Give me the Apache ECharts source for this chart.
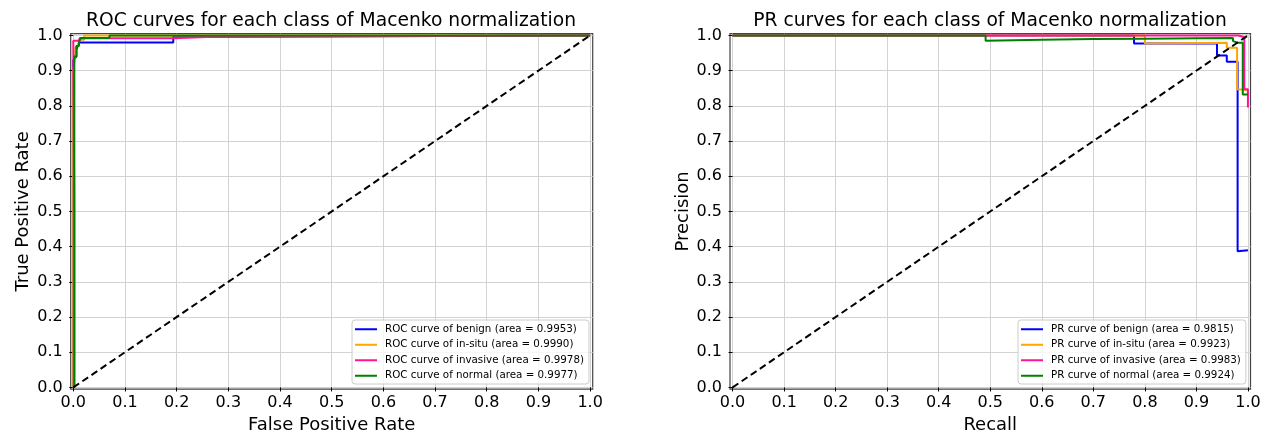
<!DOCTYPE html>
<html>
<head>
<meta charset="utf-8">
<script src="https://cdn.jsdelivr.net/npm/echarts@6/dist/echarts.min.js"></script>
<style>
  html, body { margin: 0; padding: 0; background: #fff; }
  #chart { width: 1263px; height: 435px; }
</style>
</head>
<body>
<div id="chart"></div>
<script>
// tick values shared by both plots
var tickValues = [0, 0.1, 0.2, 0.3, 0.4, 0.5, 0.6, 0.7, 0.8, 0.9, 1.0];
var classColors = ["#0000ff", "#ffa500", "#ff1493", "#008000"];

// ROC curves: [fpr, tpr]
var rocLabels = [
  "ROC curve of benign (area = 0.9953)",
  "ROC curve of in-situ (area = 0.9990)",
  "ROC curve of invasive (area = 0.9978)",
  "ROC curve of normal (area = 0.9977)"
];
var rocBenign = [[0, 0], [0, 0.93], [0.006, 0.94], [0.006, 0.96], [0.011, 0.98], [0.1935, 0.98], [0.1935, 0.996], [0.272, 0.996], [0.272, 1], [1, 1]];
var rocInSitu = [[0, 0], [0, 0.9], [0.004, 0.95], [0.004, 0.965], [0.01, 0.975], [0.012, 0.988], [0.021, 0.988], [0.021, 1], [1, 1]];
var rocInvasive = [[0.002, 0], [0.002, 0.52], [0, 0.52], [0, 0.985], [0.012, 0.985], [0.012, 0.992], [0.1935, 0.992], [0.1935, 0.996], [0.272, 0.996], [0.272, 1], [1, 1]];
var rocNormal = [[0.002, 0], [0.002, 0.94], [0.006, 0.94], [0.006, 0.97], [0.011, 0.97], [0.011, 0.98], [0.014, 0.98], [0.014, 0.993], [0.07, 0.993], [0.07, 1], [1, 1]];

// PR curves: [recall, precision]
var prLabels = [
  "PR curve of benign (area = 0.9815)",
  "PR curve of in-situ (area = 0.9923)",
  "PR curve of invasive (area = 0.9983)",
  "PR curve of normal (area = 0.9924)"
];
var prBenign = [[0, 1], [0.779, 1], [0.779, 0.977], [0.94, 0.977], [0.94, 0.943], [0.959, 0.943], [0.959, 0.925], [0.98, 0.925], [0.98, 0.387], [1, 0.39]];
var prInSitu = [[0, 1], [0.8, 1], [0.8, 0.977], [0.959, 0.979], [0.959, 0.965], [0.979, 0.965], [0.979, 0.847], [1, 0.845]];
var prInvasive = [[0, 1], [0.982, 1], [0.982, 0.995], [0.993, 0.995], [0.993, 0.847], [1, 0.847], [1, 0.795]];
var prNormal = [[0, 1], [0.491, 1], [0.491, 0.985], [0.6, 0.988], [0.7, 0.99], [0.8, 0.991], [0.9, 0.992], [0.971, 0.993], [0.971, 0.984], [0.982, 0.979], [0.99, 0.979], [0.99, 0.832], [1, 0.832]];

var chanceLine = [[0, 0], [1, 1]];

var FONT = "DejaVu Sans";

function valueAxis(gridIndex, name, nameGap, vertical) {
  return {
    type: "value",
    gridIndex: gridIndex,
    min: -0.005,
    max: 1.005,
    name: name,
    nameLocation: "middle",
    nameGap: nameGap,
    nameTextStyle: { fontFamily: FONT, fontSize: 18, color: "#000" },
    axisLine: { show: false },
    axisTick: {
      show: true,
      length: 4,
      customValues: tickValues,
      lineStyle: { color: "#000", width: 1 }
    },
    axisLabel: {
      customValues: tickValues,
      fontFamily: FONT,
      fontSize: 16,
      color: "#000",
      margin: vertical ? 8 : 6,
      formatter: function (v) { return v.toFixed(1); }
    },
    splitLine: { show: true, lineStyle: { color: "#d3d3d3", width: 1 } }
  };
}

function curve(name, data, color, axisIndex) {
  return {
    name: name,
    type: "line",
    xAxisIndex: axisIndex,
    yAxisIndex: axisIndex,
    data: data,
    symbol: "none",
    clip: false,
    lineStyle: { color: color, width: 2 },
    itemStyle: { color: color },
    z: 3
  };
}

function dashed(name, axisIndex) {
  return {
    name: name,
    type: "line",
    xAxisIndex: axisIndex,
    yAxisIndex: axisIndex,
    data: chanceLine,
    symbol: "none",
    lineStyle: { color: "#000", width: 2, type: [7, 4] },
    z: 4
  };
}

function legendBox(names, left) {
  return {
    data: names,
    orient: "vertical",
    left: left,
    top: 320,
    icon: "rect",
    itemWidth: 22,
    itemHeight: 2,
    itemGap: 3,
    padding: [3, 5, 2, 3],
    backgroundColor: "rgba(255,255,255,0.8)",
    borderColor: "#cccccc",
    borderWidth: 1,
    borderRadius: 3,
    selectedMode: false,
    textStyle: {
      fontFamily: FONT,
      fontSize: 10.3,
      lineHeight: 12.5,
      color: "#000",
      padding: [0, 0, 0, 3]
    }
  };
}

var chart = echarts.init(document.getElementById("chart"));
var option = {
  animation: false,
  backgroundColor: "#fff",
  title: [
    {
      text: "ROC curves for each class of Macenko normalization",
      left: 326, top: 7, textAlign: "center",
      textStyle: { fontFamily: FONT, fontSize: 18.7, fontWeight: "normal", color: "#000" }
    },
    {
      text: "PR curves for each class of Macenko normalization",
      left: 985, top: 7, textAlign: "center",
      textStyle: { fontFamily: FONT, fontSize: 18.7, fontWeight: "normal", color: "#000" }
    }
  ],
  grid: [
    { left: 70.7, top: 33.7, width: 522, height: 355.5, outerBoundsMode: "none", show: true, borderColor: "#444", borderWidth: 1.2, backgroundColor: "transparent" },
    { left: 730, top: 33.7, width: 520.5, height: 355.5, outerBoundsMode: "none", show: true, borderColor: "#444", borderWidth: 1.2, backgroundColor: "transparent" }
  ],
  xAxis: [
    valueAxis(0, "False Positive Rate", 27, false),
    valueAxis(1, "Recall", 27, false)
  ],
  yAxis: [
    valueAxis(0, "True Positive Rate", 38, true),
    valueAxis(1, "Precision", 37, true)
  ],
  legend: [
    legendBox(rocLabels, 352),
    legendBox(prLabels, 1018)
  ],
  series: [
    curve(rocLabels[0], rocBenign, classColors[0], 0),
    curve(rocLabels[1], rocInSitu, classColors[1], 0),
    curve(rocLabels[2], rocInvasive, classColors[2], 0),
    curve(rocLabels[3], rocNormal, classColors[3], 0),
    dashed("roc-chance", 0),
    curve(prLabels[0], prBenign, classColors[0], 1),
    curve(prLabels[1], prInSitu, classColors[1], 1),
    curve(prLabels[2], prInvasive, classColors[2], 1),
    curve(prLabels[3], prNormal, classColors[3], 1),
    dashed("pr-chance", 1)
  ]
};
chart.setOption(option);
</script>
</body>
</html>
